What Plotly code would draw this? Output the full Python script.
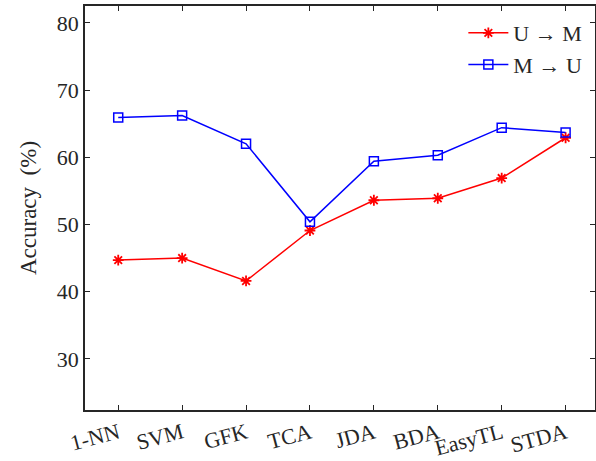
import plotly.graph_objects as go

methods = ["1-NN", "SVM", "GFK", "TCA", "JDA", "BDA", "EasyTL", "STDA"]
u_to_m = [44.7, 45.0, 41.6, 49.1, 53.6, 53.9, 56.9, 62.9]
m_to_u = [65.9, 66.2, 62.0, 50.4, 59.4, 60.3, 64.4, 63.7]
y_ticks = [30, 40, 50, 60, 70, 80]

FONT = "Liberation Serif"
TXT = "#262626"
idx = list(range(len(methods)))

fig = go.Figure()
fig.add_trace(go.Scatter(
    x=idx, y=u_to_m, mode="lines+markers", name="U \u2192 M",
    line=dict(color="#FF0000", width=1.5),
    marker=dict(symbol="asterisk-open", size=9, color="#FF0000",
                line=dict(color="#FF0000", width=1.8)),
))
fig.add_trace(go.Scatter(
    x=idx, y=m_to_u, mode="lines+markers", name="M \u2192 U",
    line=dict(color="#0000FF", width=1.5),
    marker=dict(symbol="square-open", size=9, color="#0000FF",
                line=dict(color="#0000FF", width=1.5)),
))

fig.update_layout(
    width=596, height=461,
    margin=dict(l=85, r=1, t=6, b=51),
    paper_bgcolor="white", plot_bgcolor="white",
    font=dict(family=FONT, color=TXT, size=22),
    showlegend=True,
    legend=dict(x=0.985, y=0.985, xanchor="right", yanchor="top",
                bgcolor="rgba(255,255,255,0)", borderwidth=0,
                font=dict(size=22, family=FONT, color=TXT),
                itemwidth=40, tracegroupgap=0),
)
fig.update_xaxes(
    range=[-0.52, 7.46], tickmode="array", tickvals=idx, ticktext=methods,
    tickangle=-15, ticks="inside", ticklen=5, tickcolor="#262626",
    showline=True, linecolor="#262626", linewidth=1.5, mirror="ticks",
    showgrid=False, zeroline=False, automargin=False,
    tickfont=dict(size=22, family=FONT, color=TXT),
)
fig.update_yaxes(
    range=[22.4, 82.5], tickmode="array", tickvals=y_ticks,
    ticks="inside", ticklen=5, tickcolor="#262626",
    showline=True, linecolor="#262626", linewidth=1.5, mirror="ticks",
    showgrid=False, zeroline=False, automargin=False,
    tickfont=dict(size=22, family=FONT, color=TXT),
    title=dict(text="Accuracy  (%)", font=dict(size=23, family=FONT, color=TXT), standoff=14),
)

fig.write_html("out.html", config={"displayModeBar": False},
               post_script="document.body.style.margin='0';")
